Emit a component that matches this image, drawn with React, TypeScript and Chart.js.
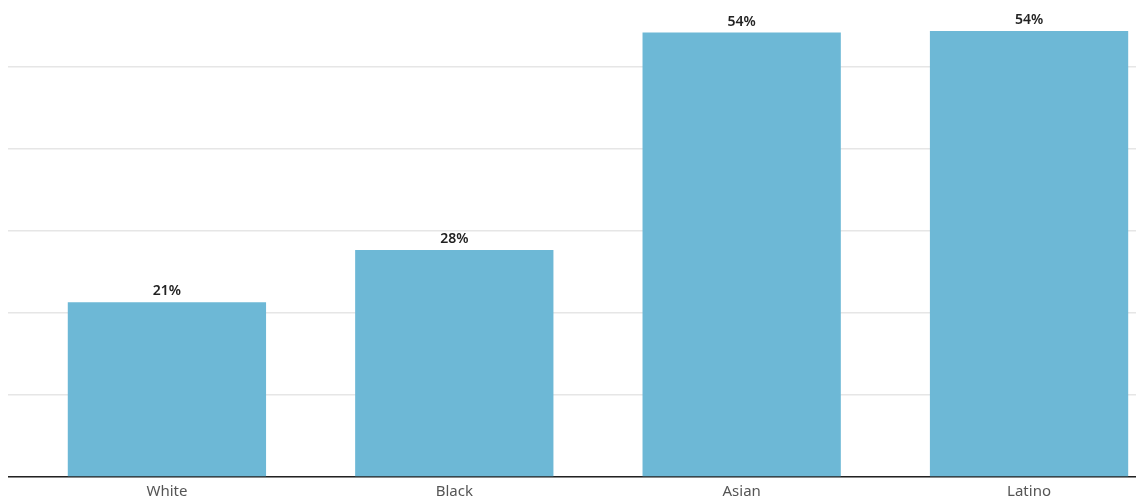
import React, { useEffect, useRef } from "react";
import { Chart, registerables } from "chart.js";

Chart.register(...registerables);

const categories = ["White", "Black", "Asian", "Latino"];
const positions = [0, 1, 2, 3];
const values = [21.3, 27.7, 54.2, 54.4];
const valueLabels = ["21%", "28%", "54%", "54%"];
const yGridTicks = [0, 10, 20, 30, 40, 50];

const barLabels = {
  id: "barLabels",
  afterDatasetsDraw(chart: any) {
    const ctx = chart.ctx;
    const meta = chart.getDatasetMeta(0);
    ctx.save();
    ctx.font = "600 14px 'Noto Sans', sans-serif";
    ctx.fillStyle = "#222222";
    ctx.textAlign = "center";
    ctx.textBaseline = "bottom";
    meta.data.forEach((el: any, i: number) => {
      ctx.fillText(valueLabels[i], el.x, el.y - 4);
    });
    ctx.restore();
  },
};

export default function App() {
  const ref = useRef<HTMLCanvasElement | null>(null);
  useEffect(() => {
    if (!ref.current) return;
    const chart = new Chart(ref.current, {
      type: "bar",
      data: {
        datasets: [
          {
            data: positions.map((p, i) => ({ x: p, y: values[i] })),
            backgroundColor: "#6db8d6",
            barPercentage: 0.69,
            categoryPercentage: 1,
          },
        ],
      },
      options: {
        animation: false,
        responsive: true,
        maintainAspectRatio: false,
        layout: { padding: 0 },
        plugins: { legend: { display: false }, tooltip: { enabled: false } },
        scales: {
          x: {
            type: "linear",
            offset: false,
            min: -0.553,
            max: 3.4,
            grid: { display: false, drawTicks: false, offset: false },
            border: { display: true, color: "#222222", width: 1.5 },
            afterFit(scale: any) {
              scale.height = 24;
            },
            ticks: {
              stepSize: 1,
              includeBounds: false,
              autoSkip: false,
              maxRotation: 0,
              padding: 6,
              color: "#555555",
              font: { family: "'Noto Sans', sans-serif", size: 15 },
              callback: (v: any) => {
                const n = Number(v);
                return Number.isInteger(n) && categories[n] ? categories[n] : "";
              },
            },
          },
          y: {
            min: 0,
            max: 57.2,
            afterBuildTicks(scale: any) {
              scale.ticks = yGridTicks.map((v) => ({ value: v }));
            },
            grid: { color: "#e6e6e6", lineWidth: 1.5, drawTicks: false },
            border: { display: false },
            ticks: { display: false },
          },
        },
      },
      plugins: [barLabels],
    });
    return () => chart.destroy();
  }, []);
  return (
    <div style={{ position: "relative", width: 1136, height: 493 }}>
      <canvas ref={ref} />
    </div>
  );
}
